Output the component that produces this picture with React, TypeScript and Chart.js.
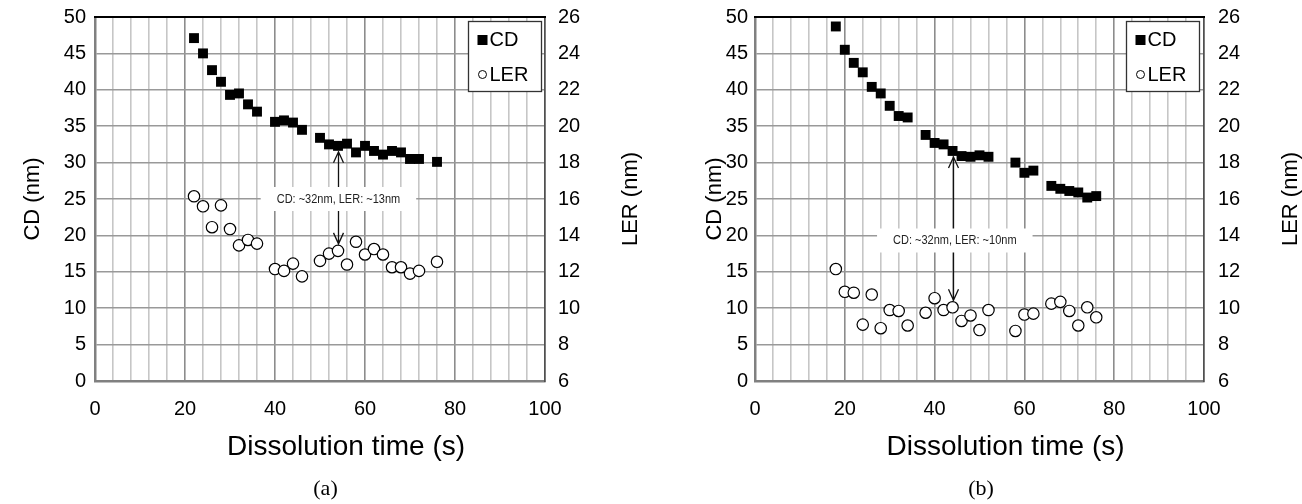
import React, { useEffect, useRef } from "react";
import { Chart, registerables } from "chart.js";

Chart.register(...registerables);

const FONT = '"Liberation Sans", Arial, sans-serif';
const SERIF = '"Liberation Serif", "Times New Roman", serif';

// ---- axes ----
const X_MIN = 0;
const X_MAX = 100;
const X_STEP = 4;
const X_LABEL_EVERY = 20;
const CD_MIN = 0;
const CD_MAX = 50;
const CD_STEP = 5;
const LER_MIN = 6;
const LER_MAX = 26;
const LER_STEP = 2;
const X_TITLE = "Dissolution time (s)";
const CD_TITLE = "CD (nm)";
const LER_TITLE = "LER (nm)";
const SERIES_NAMES = ["CD", "LER"];

// ---- panel (a) ----
const timeA = [22, 24, 26, 28, 30, 32, 34, 36, 40, 42, 44, 46, 50, 52, 54, 56, 58, 60, 62, 64, 66, 68, 70, 72, 76];
const cdA = [47.1, 45.0, 42.7, 41.1, 39.3, 39.5, 38.0, 37.0, 35.6, 35.8, 35.5, 34.5, 33.4, 32.5, 32.3, 32.6, 31.4, 32.3, 31.6, 31.1, 31.6, 31.4, 30.5, 30.5, 30.1];
const lerA = [16.15, 15.6, 14.45, 15.65, 14.35, 13.45, 13.75, 13.55, 12.15, 12.05, 12.45, 11.75, 12.6, 13.0, 13.15, 12.4, 13.65, 12.95, 13.25, 12.95, 12.25, 12.25, 11.9, 12.05, 12.55];
const annA = { text: "CD: ~32nm, LER: ~13nm", arrowAt: 54, labelX: 54.1, labelY: 25 };

// ---- panel (b) ----
const timeB = [18, 20, 22, 24, 26, 28, 30, 32, 34, 38, 40, 42, 44, 46, 48, 50, 52, 58, 60, 62, 66, 68, 70, 72, 74, 76];
const cdB = [48.7, 45.5, 43.7, 42.4, 40.4, 39.5, 37.8, 36.4, 36.2, 33.8, 32.7, 32.5, 31.6, 30.9, 30.8, 31.0, 30.8, 30.0, 28.6, 28.9, 26.8, 26.4, 26.1, 25.9, 25.2, 25.4];
const lerB = [12.15, 10.9, 10.85, 9.1, 10.75, 8.9, 9.9, 9.85, 9.05, 9.75, 10.55, 9.9, 10.05, 9.3, 9.6, 8.8, 9.9, 8.75, 9.65, 9.7, 10.25, 10.35, 9.85, 9.05, 10.05, 9.5];
const annB = { text: "CD: ~32nm, LER: ~10nm", arrowAt: 44, labelX: 44.5, labelY: 19.3 };

type Ann = { text: string; arrowAt: number; labelX: number; labelY: number };

type PanelProps = {
  left: number;
  width: number;
  leftW: number;
  plotWidth: number;
  times: number[];
  cd: number[];
  ler: number[];
  tag: string;
  ann: Ann;
  legendInset: number;
  leftTickPad: number;
  rightTickPad: number;
  leftTitlePad: number;
  rightTitleOffset: number;
};

const H = 504;
const PLOT_TOP = 17;
const PLOT_BOTTOM = 381;
const TITLE_BOX_H = 22 * 1.2 + 2;

function Panel(p: PanelProps) {
  const ref = useRef<HTMLCanvasElement>(null);
  useEffect(() => {
    const canvas = ref.current;
    if (!canvas) return;

    const decor = {
      id: "decor",
      afterDraw(chart: any) {
        const { ctx, chartArea: ca, scales } = chart;
        const xs = scales.x;
        const ys = scales.y;
        const y2s = scales.y2;
        ctx.save();
        // top border
        ctx.strokeStyle = "#000";
        ctx.lineWidth = 2;
        ctx.beginPath();
        ctx.moveTo(ca.left - 1, ca.top);
        ctx.lineTo(ca.right + 1, ca.top);
        ctx.stroke();

        // x axis title
        ctx.fillStyle = "#000";
        ctx.font = `28px ${FONT}`;
        ctx.textAlign = "center";
        ctx.textBaseline = "middle";
        ctx.fillText(X_TITLE, (ca.left + ca.right) / 2 + 26, ca.bottom + 66);

        // right axis title (reads bottom-to-top)
        ctx.save();
        ctx.translate(ca.right + p.rightTitleOffset, (ca.top + ca.bottom) / 2);
        ctx.rotate(-Math.PI / 2);
        ctx.fillStyle = "#000";
        ctx.font = `22px ${FONT}`;
        ctx.textAlign = "center";
        ctx.textBaseline = "middle";
        ctx.fillText(LER_TITLE, 0, 0);
        ctx.restore();

        // annotation arrow
        const i = p.times.indexOf(p.ann.arrowAt);
        const ax = Math.round(xs.getPixelForValue(p.ann.arrowAt)) + 0.5;
        const yA = ys.getPixelForValue(p.cd[i]) + 6;
        const yB = y2s.getPixelForValue(p.ler[i]) - 7;
        ctx.strokeStyle = "#111";
        ctx.lineWidth = 1.3;
        ctx.beginPath();
        ctx.moveTo(ax, yA);
        ctx.lineTo(ax, yB);
        ctx.moveTo(ax - 5, yA + 11);
        ctx.lineTo(ax, yA);
        ctx.lineTo(ax + 5, yA + 11);
        ctx.moveTo(ax - 5, yB - 11);
        ctx.lineTo(ax, yB);
        ctx.lineTo(ax + 5, yB - 11);
        ctx.stroke();

        // annotation label (condensed)
        const sx = 0.88;
        ctx.font = `12.5px ${FONT}`;
        const tw = ctx.measureText(p.ann.text).width * sx;
        const lx = xs.getPixelForValue(p.ann.labelX);
        const ly = ys.getPixelForValue(p.ann.labelY);
        ctx.fillStyle = "#fff";
        ctx.fillRect(lx - tw / 2 - 16, ly - 12, tw + 32, 24);
        ctx.save();
        ctx.translate(lx, ly + 0.5);
        ctx.scale(sx, 1);
        ctx.fillStyle = "#222";
        ctx.textAlign = "center";
        ctx.textBaseline = "middle";
        ctx.fillText(p.ann.text, 0, 0);
        ctx.restore();

        // legend
        const boxW = 73;
        const boxH = 70;
        const bx = Math.round(ca.right - p.legendInset - boxW) + 0.5;
        const by = Math.round(ca.top + 4) + 0.5;
        ctx.fillStyle = "#fff";
        ctx.fillRect(bx, by, boxW, boxH);
        ctx.strokeStyle = "#333";
        ctx.lineWidth = 1.3;
        ctx.strokeRect(bx, by, boxW, boxH);
        ctx.fillStyle = "#000";
        ctx.fillRect(bx + 9, by + 13.5, 10, 10);
        ctx.font = `20px ${FONT}`;
        ctx.textAlign = "left";
        ctx.textBaseline = "middle";
        ctx.fillText(SERIES_NAMES[0], bx + 21, by + 19);
        ctx.beginPath();
        ctx.arc(bx + 14, by + 53, 4, 0, Math.PI * 2);
        ctx.fillStyle = "#fff";
        ctx.fill();
        ctx.lineWidth = 1;
        ctx.strokeStyle = "#000";
        ctx.stroke();
        ctx.fillStyle = "#000";
        ctx.fillText(SERIES_NAMES[1], bx + 21, by + 53.5);
        ctx.restore();
      },
    };

    const xAxisH = H - PLOT_BOTTOM - TITLE_BOX_H;
    const rightW = p.width - p.leftW - p.plotWidth;

    const chart = new Chart(canvas, {
      type: "scatter",
      data: {
        datasets: [
          {
            label: SERIES_NAMES[0],
            data: p.times.map((t, k) => ({ x: t, y: p.cd[k] })),
            yAxisID: "y",
            pointStyle: "rect",
            pointRadius: 7,
            backgroundColor: "#000",
            borderColor: "#000",
            borderWidth: 0,
          },
          {
            label: SERIES_NAMES[1],
            data: p.times.map((t, k) => ({ x: t, y: p.ler[k] })),
            yAxisID: "y2",
            pointStyle: "circle",
            pointRadius: 5.7,
            backgroundColor: "#fff",
            borderColor: "#000",
            borderWidth: 1.2,
          },
        ],
      },
      options: {
        animation: false,
        responsive: false,
        devicePixelRatio: 1,
        layout: { autoPadding: false, padding: { top: PLOT_TOP, left: 0, right: 0, bottom: 0 } },
        plugins: {
          legend: { display: false },
          tooltip: { enabled: false },
          title: {
            display: true,
            position: "bottom",
            text: p.tag,
            color: "#000",
            font: { family: SERIF, size: 22, weight: "normal", lineHeight: 1.2 },
            padding: { top: 0, bottom: 2 },
          },
        },
        scales: {
          x: {
            type: "linear",
            position: "bottom",
            min: X_MIN,
            max: X_MAX,
            afterFit: (s: any) => {
              s.height = xAxisH;
              s.paddingLeft = 0;
              s.paddingRight = 0;
            },
            ticks: {
              stepSize: X_STEP,
              autoSkip: false,
              maxRotation: 0,
              padding: 16,
              color: "#000",
              font: { family: FONT, size: 20 },
              callback: (v: any) => (Number(v) % X_LABEL_EVERY === 0 ? String(v) : ""),
            },
            grid: {
              drawTicks: false,
              color: (c: any) => (c.tick && c.tick.value % X_LABEL_EVERY === 0 ? "#8c8c8c" : "#c6c6c6"),
              lineWidth: 1.6,
            },
            border: { color: "#808080", width: 2.5 },
            title: { display: false, text: X_TITLE },
          },
          y: {
            type: "linear",
            position: "left",
            min: CD_MIN,
            max: CD_MAX,
            afterFit: (s: any) => {
              s.width = p.leftW;
              s.paddingTop = 0;
              s.paddingBottom = 0;
            },
            ticks: {
              stepSize: CD_STEP,
              padding: p.leftTickPad,
              color: "#000",
              font: { family: FONT, size: 20 },
            },
            grid: { drawTicks: false, color: "#999999", lineWidth: 1.6 },
            border: { color: "#808080", width: 2.5 },
            title: {
              display: true,
              text: CD_TITLE,
              color: "#000",
              font: { family: FONT, size: 22 },
              padding: { top: p.leftTitlePad, bottom: 0 },
            },
          },
          y2: {
            type: "linear",
            position: "right",
            min: LER_MIN,
            max: LER_MAX,
            afterFit: (s: any) => {
              s.width = rightW;
              s.paddingTop = 0;
              s.paddingBottom = 0;
            },
            ticks: {
              stepSize: LER_STEP,
              padding: p.rightTickPad,
              color: "#000",
              font: { family: FONT, size: 20 },
            },
            grid: { drawOnChartArea: false, drawTicks: false },
            border: { color: "#505050", width: 1.6 },
          },
        },
      } as any,
      plugins: [decor],
    });
    return () => chart.destroy();
  }, []);

  return (
    <div style={{ position: "absolute", left: p.left, top: 0, width: p.width, height: H }}>
      <canvas ref={ref} width={p.width} height={H} style={{ display: "block", width: p.width, height: H }} />
    </div>
  );
}

export default function App() {
  return (
    <div style={{ position: "absolute", left: 0, top: 0, width: 1302, height: H, background: "#fff", overflow: "hidden" }}>
      <Panel
        left={0}
        width={651}
        leftW={95}
        plotWidth={450}
        times={timeA}
        cd={cdA}
        ler={lerA}
        tag="(a)"
        ann={annA}
        legendInset={4}
        leftTickPad={9}
        rightTickPad={13}
        leftTitlePad={20}
        rightTitleOffset={86}
      />
      <Panel
        left={660}
        width={642}
        leftW={95}
        plotWidth={449}
        times={timeB}
        cd={cdB}
        ler={lerB}
        tag="(b)"
        ann={annB}
        legendInset={5}
        leftTickPad={7}
        rightTickPad={14}
        leftTitlePad={42}
        rightTitleOffset={87}
      />
    </div>
  );
}
